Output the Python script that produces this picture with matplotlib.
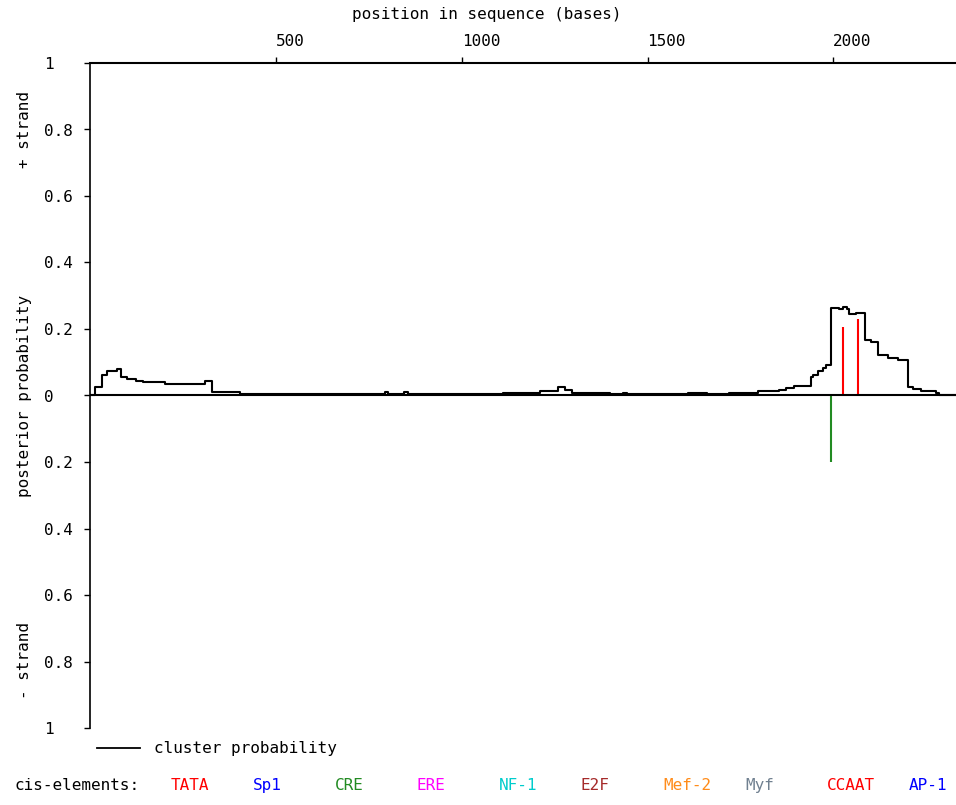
import matplotlib
matplotlib.use("Agg")
import matplotlib.pyplot as plt
from matplotlib.lines import Line2D

# cluster probability (step curve)
cluster_pos = [0, 13, 31, 45, 73, 83, 99, 125, 143, 202, 309, 327, 403, 793, 801,
               844, 855, 1110, 1210, 1258, 1277, 1298, 1398, 1433, 1446, 1608, 1661,
               1720, 1796, 1855, 1873, 1895, 1940, 1944, 1958, 1971, 1980, 1994, 2016,
               2025, 2038, 2043, 2061, 2086, 2101, 2119, 2146, 2173, 2200, 2213, 2236,
               2276, 2285, 2330]
cluster_prob = [0.003, 0.025, 0.063, 0.073, 0.081, 0.055, 0.051, 0.045, 0.040, 0.036,
                0.045, 0.010, 0.004, 0.010, 0.004, 0.010, 0.004, 0.008, 0.015, 0.025,
                0.018, 0.008, 0.004, 0.008, 0.004, 0.008, 0.004, 0.008, 0.013, 0.016,
                0.022, 0.030, 0.056, 0.063, 0.073, 0.083, 0.093, 0.263, 0.261, 0.265,
                0.261, 0.246, 0.248, 0.168, 0.161, 0.121, 0.113, 0.108, 0.025, 0.021,
                0.013, 0.008, 0.003, 0.003]

# element hits
plus_pos = [2027, 2066]
plus_prob = [0.206, 0.230]
plus_color = ["red", "red"]
minus_pos = [1995]
minus_prob = [0.200]
minus_color = ["#228b22"]

x_ticks = [500, 1000, 1500, 2000]
y_ticks = [1, 0.8, 0.6, 0.4, 0.2, 0, -0.2, -0.4, -0.6, -0.8, -1]

element_names = ["TATA", "Sp1", "CRE", "ERE", "NF-1", "E2F", "Mef-2", "Myf", "CCAAT", "AP-1"]
element_colors = ["#ff0000", "#0000ff", "#228b22", "#ff00ff", "#00cccc", "#a52a2a",
                  "#ff8c1a", "#708090", "#ff0000", "#0000ff"]

plt.rcParams['font.family'] = ['DejaVu Sans Mono']
W, H = 956, 805
fig = plt.figure(figsize=(W / 100, H / 100), dpi=100)
ax = fig.add_axes([90 / W, 1 - 728 / H, 1 - 90 / W, (728 - 63) / H])

ax.step(cluster_pos, cluster_prob, where='post', color='black', lw=1.5)
for p, v, c in zip(plus_pos, plus_prob, plus_color):
    ax.vlines(p, 0, v, color=c, lw=1.5)
for p, v, c in zip(minus_pos, minus_prob, minus_color):
    ax.vlines(p, 0, -v, color=c, lw=1.5)
ax.axhline(0, color='black', lw=1.5)

ax.set_xlim(0, 2330)
ax.set_ylim(-1, 1)
ax.spines['right'].set_visible(False)
ax.spines['bottom'].set_visible(False)
ax.spines['top'].set_linewidth(1.5)
ax.spines['left'].set_linewidth(1.2)

ax.xaxis.tick_top()
ax.set_xticks(x_ticks)
ax.set_xticklabels([str(t) for t in x_ticks], fontsize=11.5)
ax.tick_params(axis='x', direction='out', length=4, width=1, pad=6)
for lab in ax.get_xticklabels():
    lab.set_horizontalalignment('left')

ax.set_yticks(y_ticks)
ax.set_yticklabels([f"{abs(t):g}" for t in y_ticks], fontsize=11.5)
ax.tick_params(axis='y', direction='out', length=4, width=1, pad=29)
for lab in ax.get_yticklabels():
    lab.set_horizontalalignment('left')

fig.text(487 / W, 1 - 15 / H, "position in sequence (bases)", ha='center', va='center', fontsize=11.5)
fig.text(25 / W, 1 - 130 / H, "+ strand", rotation=90, ha='center', va='center', fontsize=11.5)
fig.text(25 / W, 1 - 396 / H, "posterior probability", rotation=90, ha='center', va='center', fontsize=11.5)
fig.text(25 / W, 1 - 660 / H, "- strand", rotation=90, ha='center', va='center', fontsize=11.5)

fig.add_artist(Line2D([97 / W, 140 / W], [1 - 748 / H, 1 - 748 / H], color='black', lw=1.3,
                      transform=fig.transFigure))
fig.text(154 / W, 1 - 748 / H, "cluster probability", ha='left', va='center', fontsize=11.5)

fig.text(15 / W, 1 - 785 / H, "cis-elements:", ha='left', va='center', fontsize=11.5)
for i, (name, col) in enumerate(zip(element_names, element_colors)):
    fig.text((171 + 82 * i) / W, 1 - 785 / H, name, ha='left', va='center', fontsize=11.5, color=col)

fig.savefig("out.png", dpi=100)
